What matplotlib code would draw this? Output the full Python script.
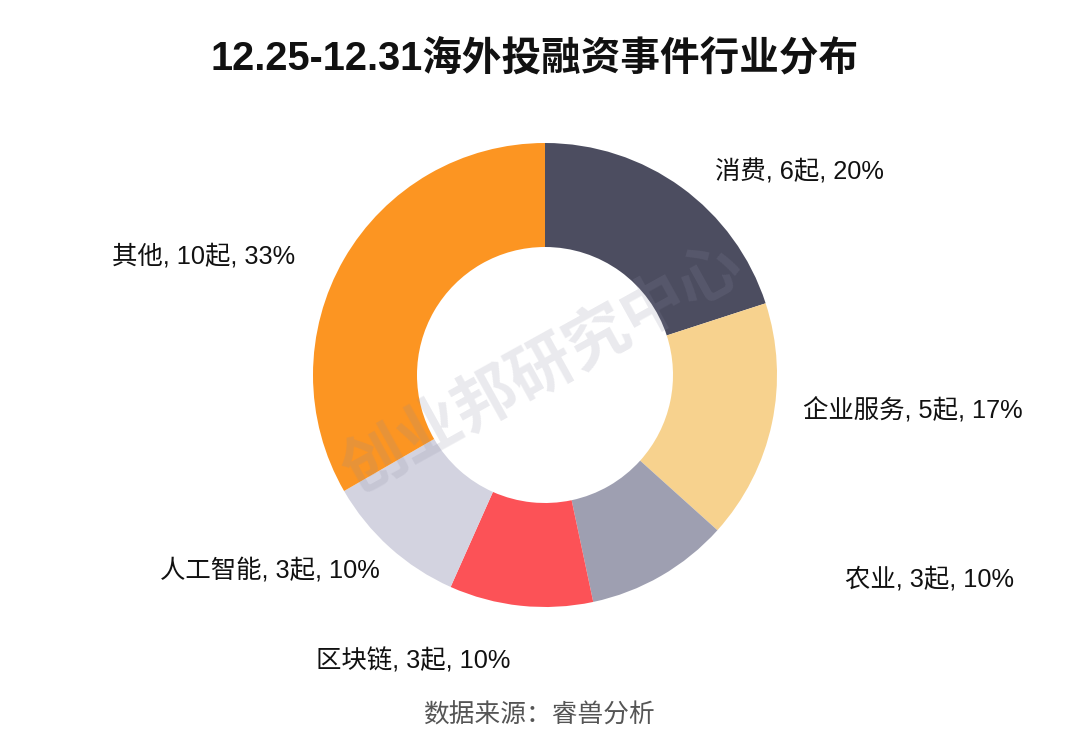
import matplotlib

matplotlib.use("Agg")
import matplotlib.pyplot as plt  # noqa: E402

plt.rcParams["font.family"] = ["Liberation Sans", "Noto Sans CJK SC", "DejaVu Sans"]

# data
industries = ["消费", "企业服务", "农业", "区块链", "人工智能", "其他"]
counts = [6, 5, 3, 3, 3, 10]
percents = ["20%", "17%", "10%", "10%", "10%", "33%"]
colors = ["#4c4d60", "#f7d28e", "#9e9fb1", "#fc5257", "#d3d3e0", "#fc9522"]

# label anchor points in pixel space (x, y from top) and alignment
label_pos = [(715, 172, "left"), (803, 411, "left"), (845, 579, "left"),
             (510, 661, "right"), (380, 570, "right"), (295, 256, "right")]

W, H = 1080, 740
fig = plt.figure(figsize=(W / 100, H / 100), dpi=100)
ax = fig.add_axes([0, 0, 1, 1])

cx, cy, r_out, r_in = 545, H - 375, 232, 128
ax.pie(counts, colors=colors, startangle=90, counterclock=False,
       center=(cx, cy), radius=r_out, frame=True,
       wedgeprops=dict(width=r_out - r_in, linewidth=0))
ax.set_xlim(0, W)
ax.set_ylim(0, H)
ax.set_aspect("equal")
ax.axis("off")

for name, n, pct, (x, y, ha) in zip(industries, counts, percents, label_pos):
    ax.text(x, H - y, f"{name}, {n}起, {pct}", fontsize=18.3, ha=ha,
            va="center", color="#111111")

# watermark
ax.text(543, H - 370, "创业邦研究中心", fontsize=46, fontweight="bold",
        rotation=29, ha="center", va="center", color="#8a8aa0", alpha=0.18,
        family=["Noto Sans CJK SC"])

ax.text(535, H - 58, "12.25-12.31海外投融资事件行业分布", fontsize=28.5,
        fontweight="bold", ha="center", va="center", color="#111111")
ax.text(539, H - 716, "数据来源：睿兽分析", fontsize=18.5, ha="center",
        va="center", color="#555555", family=["Noto Sans CJK SC"])

fig.savefig("out.png", dpi=100, facecolor="white")
